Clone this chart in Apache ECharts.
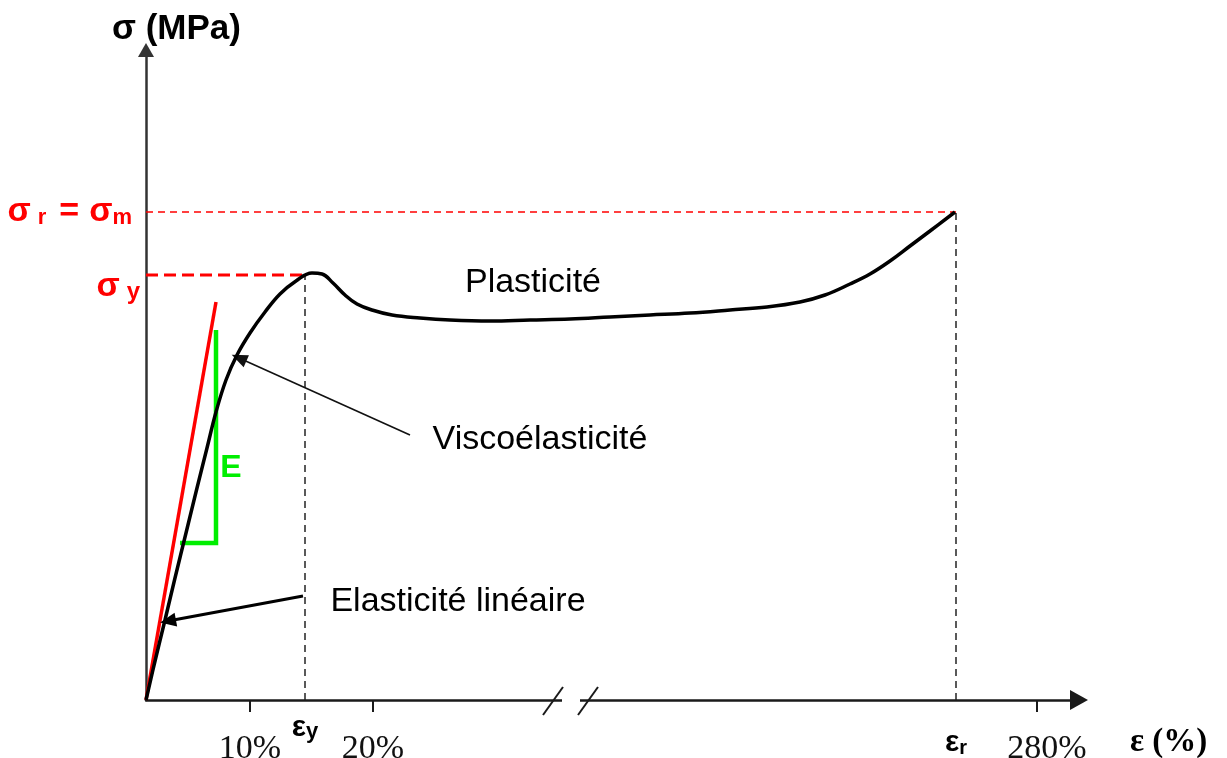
<!DOCTYPE html>
<html>
<head>
<meta charset="utf-8">
<script src="https://cdn.jsdelivr.net/npm/echarts@6/dist/echarts.min.js"></script>
<style>
  html, body { margin: 0; padding: 0; background: #fff; }
  #chart { width: 1227px; height: 758px; }
</style>
</head>
<body>
<div id="chart"></div>
<script>
// Schematic tensile curve of a polymer (stress vs strain), in drawing units.
const strainPos = [0, 1.0, 1.9, 2.9, 4.0, 5.1, 6.1, 7.0, 8.0, 9.1, 10.4, 11.9, 13.4, 15.0, 16.6, 17.6, 18.7, 19.9, 21.1, 22.6, 24.6, 27.4, 30.4, 34.4, 38.4, 42.4, 46.4, 50.4, 54.4, 58.4, 62.1, 65.4, 67.9, 70.4, 72.4, 74.4, 76.4, 78.4, 80.9];
const stress    = [0, 4.3, 8.0, 12.2, 16.7, 21.2, 25.2, 28.8, 32.0, 34.5, 36.7, 38.8, 40.6, 41.9, 42.7, 42.6, 41.7, 40.5, 39.6, 39.0, 38.5, 38.2, 38.0, 37.9, 38.0, 38.1, 38.3, 38.5, 38.7, 39.0, 39.3, 39.8, 40.5, 41.6, 42.6, 43.9, 45.4, 46.9, 48.8];

// Characteristic points
const epsYield = 15.9, sigmaYield = 42.5;
const epsRupture = 81.0, sigmaRupture = 48.8;

// Strain axis ticks
const xTickPos    = [10.4, 22.7, 89.1];
const xTickLabels = ['10%', '20%', '280%'];
const tickLength  = 1.2;

// Initial tangent (modulus E) and its slope triangle
const tangentX = [0, 7.0];
const tangentY = [0, 39.8];
const slopeX = [3.4, 7.0, 7.0];
const slopeY = [15.7, 15.7, 37.0];

// Axis break position on the strain axis
const breakStart = 41.6, breakEnd = 43.4;
const breakSlashX = [[39.7, 41.7], [43.2, 45.2]];
const breakSlashY = [-1.5, 1.3];

// Annotation arrows: [from, to]
const viscoArrow   = [[26.4, 26.5], [9.3, 34.2]];
const elasticArrow = [[15.7, 10.4], [2.2, 7.9]];

// Region names
const regionNames = ['Plasticité', 'Viscoélasticité', 'Elasticité linéaire'];
const regionPos   = [[38.7, 41.7], [39.4, 26.0], [31.2, 9.8]];
const modulusPos  = [8.5, 23.2];

const SANS = 'Liberation Sans, Arial, sans-serif';
const SERIF = 'Liberation Serif, Times New Roman, serif';
const zip = (xs, ys) => xs.map((x, i) => [x, ys[i]]);

const xLabelValues = [xTickPos[0], epsYield, xTickPos[1], epsRupture, xTickPos[2]];
function xLabel(v) {
  const i = xTickPos.indexOf(v);
  if (i === 2) return '{gap| }{pct|' + xTickLabels[i] + '}';
  if (i >= 0) return '{pct|' + xTickLabels[i] + '}';
  if (v === epsYield) return '{ey|ε}{eysub|y}';
  if (v === epsRupture) return '{er|ε}{ersub|r}';
  return '';
}
function yLabel(v) {
  if (v === sigmaRupture) return '{s|σ}{sp1| }{sub|r}{sp2| }{s|=}{sp3| }{s|σ}{sub|m}{tail| }';
  if (v === sigmaYield) return '{sy|σ}{sp1| }{suby|y}';
  return '';
}

const chart = echarts.init(document.getElementById('chart'), null, { renderer: 'canvas' });

chart.setOption({
  animation: false,
  backgroundColor: '#ffffff',
  grid: { left: 146, right: 148, top: 50, bottom: 58, containLabel: false, outerBoundsMode: 'none' },
  xAxis: {
    type: 'value', min: 0, max: 93.3,
    splitLine: { show: false },
    axisLine: { show: true, lineStyle: { color: '#1a1a1a', width: 2.5 },
      symbol: ['none', 'triangle'], symbolSize: [20, 18] },
    axisTick: { show: false },
    axisLabel: {
      show: true, customValues: xLabelValues, margin: 0, formatter: xLabel, verticalAlign: 'top',
      rich: {
        pct:  { fontFamily: SERIF, fontSize: 34, lineHeight: 66, color: '#111', verticalAlign: 'bottom' },
        gap:  { fontSize: 10, width: 20, lineHeight: 66, verticalAlign: 'bottom' },
        ey:   { fontFamily: SANS, fontSize: 30, fontWeight: 'bold', lineHeight: 43, color: '#000', verticalAlign: 'bottom' },
        eysub:{ fontFamily: SANS, fontSize: 22, fontWeight: 'bold', lineHeight: 43, color: '#000', verticalAlign: 'bottom' },
        er:   { fontFamily: SANS, fontSize: 30, fontWeight: 'bold', lineHeight: 58, color: '#000', verticalAlign: 'bottom' },
        ersub:{ fontFamily: SANS, fontSize: 20, fontWeight: 'bold', lineHeight: 58, color: '#000', verticalAlign: 'bottom' }
      }
    },
    name: '{n|ε (%)}', nameLocation: 'end', nameGap: 51,
    nameTextStyle: { verticalAlign: 'top',
      rich: { n: { fontFamily: SERIF, fontWeight: 'bold', fontSize: 33, color: '#000', lineHeight: 84, verticalAlign: 'middle' } } }
  },
  yAxis: {
    type: 'value', min: 0, max: 65,
    splitLine: { show: false },
    axisLine: { show: true, lineStyle: { color: '#333', width: 2.5 },
      symbol: ['none', 'triangle'], symbolSize: [16, 14] },
    axisTick: { show: false },
    axisLabel: {
      show: true, customValues: [sigmaYield, sigmaRupture], margin: 6, formatter: yLabel,
      rich: {
        s:    { fontFamily: SANS, fontSize: 34, fontWeight: 'bold', color: '#ff0000', verticalAlign: 'bottom' },
        sub:  { fontFamily: SANS, fontSize: 22, fontWeight: 'bold', color: '#ff0000', verticalAlign: 'bottom' },
        sp1:  { fontSize: 10, width: 7 },
        sp2:  { fontSize: 10, width: 13 },
        sp3:  { fontSize: 10, width: 10 },
        tail: { fontSize: 10, width: 8 },
        sy:   { fontFamily: SANS, fontSize: 34, fontWeight: 'bold', color: '#ff0000', verticalAlign: 'bottom', lineHeight: 58 },
        suby: { fontFamily: SANS, fontSize: 24, fontWeight: 'bold', color: '#ff0000', verticalAlign: 'bottom', lineHeight: 58 }
      }
    },
    name: 'σ (MPa)', nameLocation: 'end', nameGap: 3,
    nameTextStyle: { fontFamily: SANS, fontWeight: 'bold', fontSize: 35, color: '#000',
      align: 'left', padding: [0, 0, 0, -34] }
  },
  series: [
    // stress-strain curve
    { type: 'line', data: zip(strainPos, stress), smooth: 0.4, symbol: 'none', z: 5,
      lineStyle: { color: '#000', width: 3.5 } },
    // initial tangent
    { type: 'line', data: zip(tangentX, tangentY), symbol: 'none', z: 4,
      lineStyle: { color: '#ff0000', width: 3.5 } },
    // slope triangle for modulus E
    { type: 'line', data: zip(slopeX, slopeY), symbol: 'none', z: 4,
      lineStyle: { color: '#00ee00', width: 4.5, join: 'miter' } },
    // rupture stress level
    { type: 'line', data: [[0, sigmaRupture], [epsRupture, sigmaRupture]], symbol: 'none', z: 3,
      lineStyle: { color: '#ff0000', width: 1.3, type: [7, 5] } },
    // yield stress level
    { type: 'line', data: [[0, sigmaYield], [epsYield, sigmaYield]], symbol: 'none', z: 3,
      lineStyle: { color: '#ff0000', width: 3, type: [12, 6] } },
    // yield strain
    { type: 'line', data: [[epsYield, 0], [epsYield, sigmaYield]], symbol: 'none', z: 3,
      lineStyle: { color: '#222', width: 1.5, type: [7, 5] } },
    // rupture strain
    { type: 'line', data: [[epsRupture, 0], [epsRupture, sigmaRupture]], symbol: 'none', z: 3,
      lineStyle: { color: '#222', width: 1.5, type: [7, 5] } },
    // tick marks on the strain axis
    ...xTickPos.map(x => ({
      type: 'line', data: [[x, 0], [x, -tickLength]], symbol: 'none', z: 3, clip: false,
      lineStyle: { color: '#1a1a1a', width: 2 }
    })),
    // gap in the strain axis
    { type: 'line', data: [[breakStart, 0], [breakEnd, 0]], symbol: 'none', z: 6, clip: false,
      lineStyle: { color: '#ffffff', width: 6 } },
    // break slashes
    ...breakSlashX.map(xs => ({
      type: 'line', data: zip(xs, breakSlashY), symbol: 'none', z: 7, clip: false,
      lineStyle: { color: '#1a1a1a', width: 2 }
    })),
    // annotation arrows
    { type: 'line', data: [], z: 6,
      markLine: {
        silent: true, animation: false, label: { show: false },
        data: [
          [ { coord: viscoArrow[0], symbol: 'none', lineStyle: { color: '#111', width: 1.6, type: 'solid' } },
            { coord: viscoArrow[1], symbol: 'triangle', symbolSize: [13, 16] } ],
          [ { coord: elasticArrow[0], symbol: 'none', lineStyle: { color: '#000', width: 3, type: 'solid' } },
            { coord: elasticArrow[1], symbol: 'triangle', symbolSize: [14, 16] } ]
        ]
      }
    },
    // region names
    { type: 'scatter', symbolSize: 0, z: 8, clip: false, itemStyle: { opacity: 1 },
      data: regionNames.map((n, i) => ({ name: n, value: regionPos[i] })),
      label: { show: true, position: [0, 0], align: 'center', verticalAlign: 'middle', opacity: 1,
        formatter: p => p.name, fontFamily: SANS, fontSize: 34, color: '#000' } },
    // modulus label
    { type: 'scatter', symbolSize: 0, z: 8, itemStyle: { opacity: 1 },
      data: [{ name: 'E', value: modulusPos }],
      label: { show: true, position: [0, 0], align: 'center', verticalAlign: 'middle', opacity: 1,
        formatter: p => p.name, fontFamily: SANS, fontSize: 32, fontWeight: 'bold', color: '#00ee00' } }
  ]
});
</script>
</body>
</html>
